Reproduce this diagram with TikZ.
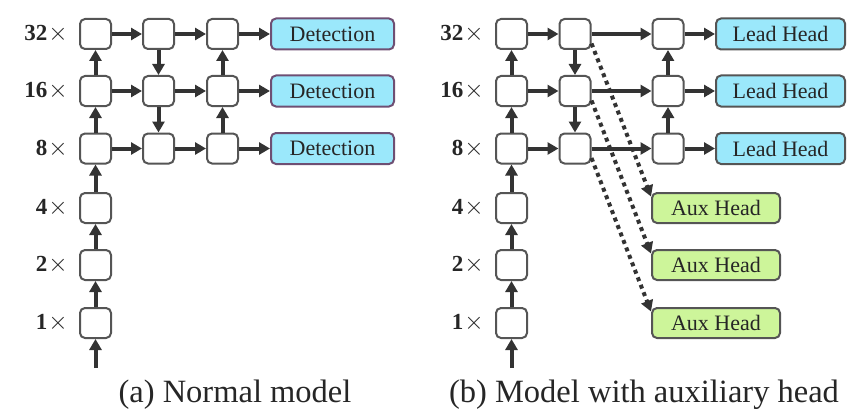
\documentclass[tikz,border=0pt]{standalone}
\usepackage{fontspec}
\setmainfont{Liberation Serif}
\usetikzlibrary{arrows.meta,positioning}
\definecolor{boxgray}{HTML}{555555}
\definecolor{lingray}{HTML}{333333}
\definecolor{detblue}{HTML}{9BE8FB}
\definecolor{detline}{HTML}{6E4F73}
\definecolor{auxgreen}{HTML}{CDF59A}

\begin{document}
\begin{tikzpicture}
  [x=1pt,y=-1pt,
   blk/.style={draw=boxgray,line width=2pt,rounded corners=5pt,fill=white,
     minimum width=31pt,minimum height=30pt,inner sep=0pt},
   head/.style={line width=2pt,rounded corners=5pt,minimum height=31pt,
     inner sep=0pt,text=black!85,font=\fontsize{22}{22}\selectfont},
   det/.style={head,fill=detblue,draw=detline,minimum width=123pt},
   lead/.style={head,fill=detblue,draw=boxgray,minimum width=129pt},
   aux/.style={head,fill=auxgreen,draw=boxgray,minimum width=128pt,minimum height=30pt},
   arr/.style={draw=lingray,line width=4pt,-{Triangle[length=11pt,width=12pt]}},
   dots/.style={draw=lingray,line width=4pt,dash pattern=on 4pt off 4pt,
     -{Triangle[length=11pt,width=12pt]}},
   scl/.style={anchor=east,inner sep=0pt,text=black!85,font=\fontsize{23}{23}\selectfont\bfseries},
   captxt/.style={text=black!85,font=\fontsize{32.5}{32.5}\selectfont}]
  \useasboundingbox (0,0) rectangle (854,420);

  % (a) normal model
  \foreach \n/\y in {32/34,16/91,8/148.5,4/208,2/265,1/323} {
    \node[blk] (la\n) at (95.5,\y) {};
    \node[scl] (ls\n) at (68,\y) {\n\kern1pt$\times$};
  }
  \foreach \n/\y in {32/34,16/91,8/148.5} {
    \node[blk] (lb\n) at (158.5,\y) {};
    \node[blk] (lc\n) at (222.5,\y) {};
    \node[det] (ld\n) at (332.5,\y) {Detection};
  }
  \coordinate (lin) at (95.5,368);
  \draw[arr] (lin) -- (la1);
  \foreach \from/\to in {la1/la2,la2/la4,la4/la8,la8/la16,la16/la32,
      lb32/lb16,lb16/lb8,lc8/lc16,lc16/lc32,
      la32/lb32,lb32/lc32,lc32/ld32,la16/lb16,lb16/lc16,lc16/ld16,
      la8/lb8,lb8/lc8,lc8/ld8}
    \draw[arr] (\from) -- (\to);
  \node[captxt] (capa) at (235,395) {(a) Normal model};

  % (b) model with auxiliary head
  \foreach \n/\y in {32/34,16/91,8/148.5,4/208,2/265,1/323} {
    \node[blk] (ra\n) at (511.5,\y) {};
    \node[scl] (rs\n) at (484,\y) {\n\kern1pt$\times$};
  }
  \foreach \n/\y in {32/34,16/91,8/148.5} {
    \node[blk] (rb\n) at (575,\y) {};
    \node[blk] (rc\n) at (668,\y) {};
    \node[lead] (rh\n) at (780.5,\y) {Lead Head};
  }
  \foreach \n/\y in {32/208,16/265,8/323}
    \node[aux] (rx\n) at (716,\y) {Aux Head};
  \coordinate (rin) at (511.5,368);
  \draw[arr] (rin) -- (ra1);
  \foreach \from/\to in {ra1/ra2,ra2/ra4,ra4/ra8,ra8/ra16,ra16/ra32,
      rb32/rb16,rb16/rb8,rc8/rc16,rc16/rc32,
      ra32/rb32,rb32/rc32,rc32/rh32,ra16/rb16,rb16/rc16,rc16/rh16,
      ra8/rb8,rb8/rc8,rc8/rh8}
    \draw[arr] (\from) -- (\to);
  \foreach \n in {32,16,8}
    \draw[dots] (rb\n.-30) -- (rx\n.170);
  \node[captxt] (capb) at (644,395) {(b) Model with auxiliary head};
\end{tikzpicture}
\end{document}
